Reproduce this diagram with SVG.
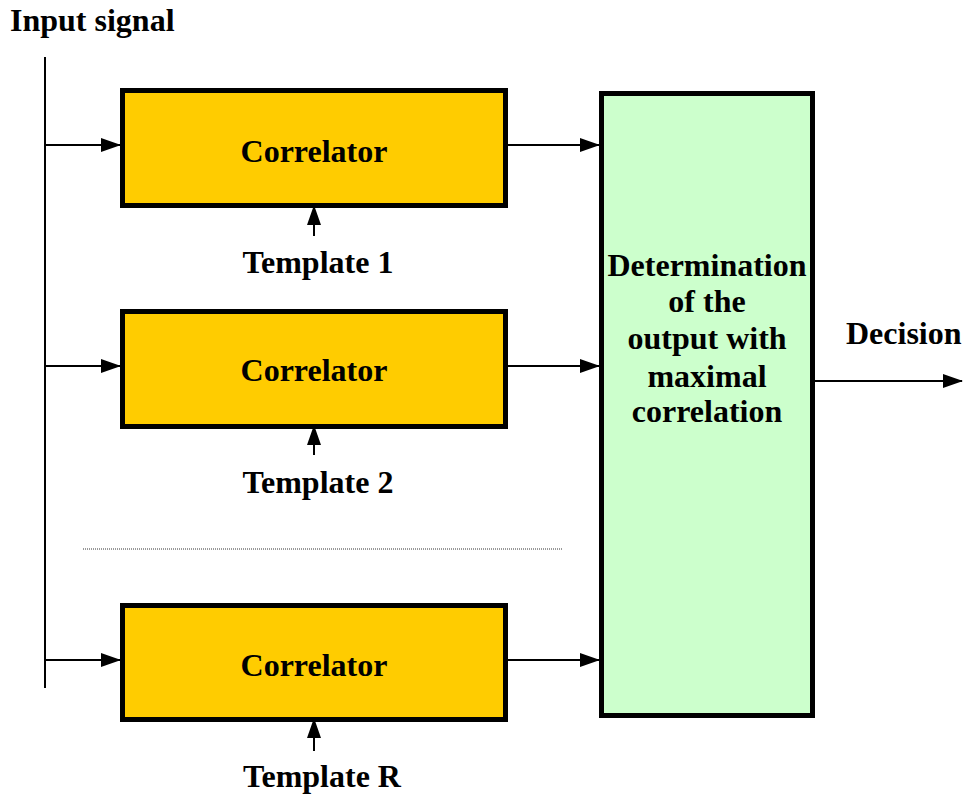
<svg xmlns="http://www.w3.org/2000/svg" width="967" height="798" viewBox="0 0 967 798">
<style>
text{font-family:"Liberation Serif","Times New Roman",serif;font-weight:bold;fill:#000;font-size:32px}
.c{text-anchor:middle}
.corr{fill:#ffcc00;stroke:#000;stroke-width:5}
.dec{fill:#ccffcc;stroke:#000;stroke-width:5}
.ln{stroke:#000;stroke-width:2;fill:none}
</style>
<defs>
<marker id="ah" markerWidth="20" markerHeight="14" refX="19" refY="7" orient="auto" markerUnits="userSpaceOnUse">
<path d="M0,0 L20,7 L0,14 Z" fill="#000"/>
</marker>
</defs>
<text x="10" y="31" font-size="31">Input signal</text>
<g id="connectors">
<line class="ln" x1="45" y1="57" x2="45" y2="688"/>
<line class="ln" x1="45" y1="145" x2="120" y2="145" marker-end="url(#ah)"/>
<line class="ln" x1="45" y1="366" x2="120" y2="366" marker-end="url(#ah)"/>
<line class="ln" x1="45" y1="660" x2="120" y2="660" marker-end="url(#ah)"/>
<line class="ln" x1="508" y1="145" x2="599" y2="145" marker-end="url(#ah)"/>
<line class="ln" x1="508" y1="366" x2="599" y2="366" marker-end="url(#ah)"/>
<line class="ln" x1="508" y1="660" x2="599" y2="660" marker-end="url(#ah)"/>
<line class="ln" x1="314" y1="236" x2="314" y2="206" marker-end="url(#ah)"/>
<line class="ln" x1="314" y1="455" x2="314" y2="426" marker-end="url(#ah)"/>
<line class="ln" x1="314" y1="751" x2="314" y2="719" marker-end="url(#ah)"/>
<line class="ln" x1="815" y1="381" x2="962" y2="381" marker-end="url(#ah)"/>
<line x1="83" y1="549" x2="562" y2="549" stroke="#333" stroke-width="1" stroke-dasharray="1,1"/>
</g>
<g id="corr1">
<rect class="corr" x="122.5" y="90.5" width="383" height="115"/>
<text class="c" x="314" y="162">Correlator</text>
</g>
<g id="tmpl1"><text class="c" x="318" y="273">Template 1</text></g>
<g id="corr2">
<rect class="corr" x="122.5" y="311.5" width="383" height="115"/>
<text class="c" x="314" y="381">Correlator</text>
</g>
<g id="tmpl2"><text class="c" x="318" y="493">Template 2</text></g>
<g id="corr3">
<rect class="corr" x="122.5" y="605.5" width="383" height="114"/>
<text class="c" x="314" y="676">Correlator</text>
</g>
<g id="tmplR"><text class="c" x="322" y="787">Template R</text></g>
<g id="decision">
<rect class="dec" x="601.5" y="93.5" width="211" height="622"/>
<text class="c" x="707" y="276">Determination</text>
<text class="c" x="707" y="312">of the</text>
<text class="c" x="707" y="349">output with</text>
<text class="c" x="707" y="387">maximal</text>
<text class="c" x="707" y="422">correlation</text>
</g>
<g id="decisionLabel"><text x="846" y="344">Decision</text></g>
</svg>
